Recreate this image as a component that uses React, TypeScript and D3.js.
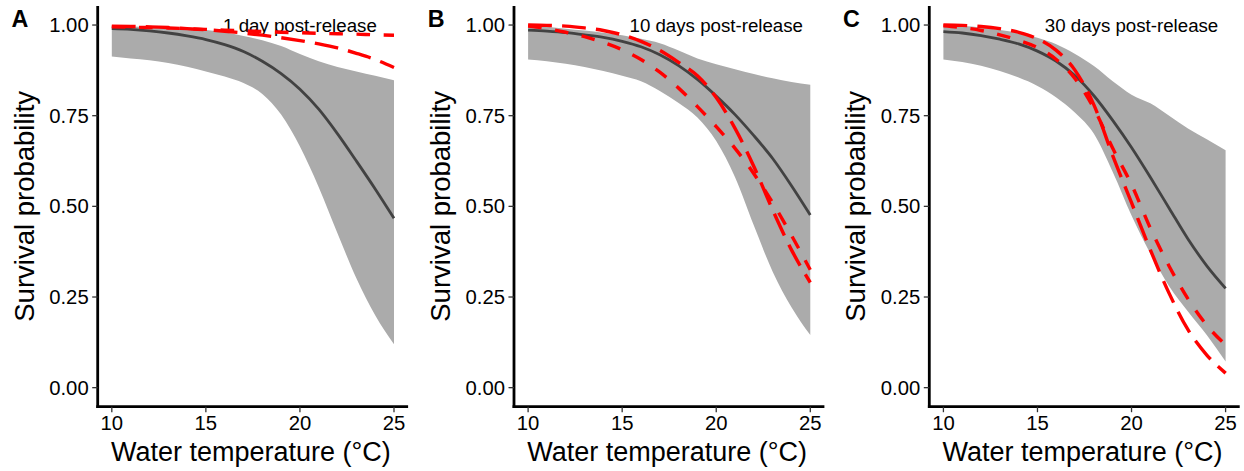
import React from "react";
import * as d3 from "d3";

const temps = [10, 11, 12, 13, 14, 15, 16, 17, 18, 19, 20, 21, 22, 23, 24, 25];
const panelLabels = ["A", "B", "C"];
const annotations = ["1 day post-release", "10 days post-release", "30 days post-release"];
const xTicks = [10, 15, 20, 25];
const yTicks = [0, 0.25, 0.5, 0.75, 1];

// Panel A
const meanA = [0.99, 0.988, 0.984, 0.978, 0.97, 0.96, 0.946, 0.927, 0.9, 0.866, 0.823, 0.768, 0.7, 0.625, 0.548, 0.467];
const lowerA = [0.913, 0.908, 0.903, 0.895, 0.885, 0.872, 0.858, 0.84, 0.81, 0.753, 0.665, 0.553, 0.425, 0.302, 0.2, 0.12];
const upperA = [0.997, 0.996, 0.995, 0.993, 0.99, 0.986, 0.98, 0.97, 0.958, 0.942, 0.92, 0.9, 0.884, 0.872, 0.86, 0.848];
const shortA = [0.995, 0.994, 0.993, 0.992, 0.99, 0.988, 0.986, 0.984, 0.982, 0.98, 0.979, 0.977, 0.976, 0.975, 0.973, 0.972];
const longA = [0.997, 0.996, 0.995, 0.993, 0.99, 0.987, 0.983, 0.978, 0.972, 0.965, 0.957, 0.948, 0.937, 0.922, 0.905, 0.883];

// Panel B
const meanB = [0.986, 0.983, 0.979, 0.973, 0.966, 0.955, 0.94, 0.918, 0.888, 0.85, 0.804, 0.753, 0.695, 0.632, 0.557, 0.476];
const lowerB = [0.905, 0.9, 0.893, 0.884, 0.873, 0.86, 0.845, 0.818, 0.785, 0.745, 0.68, 0.58, 0.447, 0.32, 0.222, 0.145];
const upperB = [0.999, 0.995, 0.99, 0.985, 0.979, 0.972, 0.962, 0.95, 0.93, 0.908, 0.892, 0.878, 0.865, 0.853, 0.843, 0.835];
const shortB = [0.997, 0.99, 0.98, 0.968, 0.952, 0.932, 0.905, 0.87, 0.826, 0.775, 0.72, 0.66, 0.59, 0.51, 0.42, 0.325];
const longB = [1.0, 0.999, 0.997, 0.992, 0.985, 0.973, 0.955, 0.93, 0.897, 0.86, 0.8, 0.715, 0.61, 0.49, 0.38, 0.29];

// Panel C
const meanC = [0.982, 0.978, 0.971, 0.961, 0.948, 0.928, 0.9, 0.86, 0.805, 0.737, 0.662, 0.58, 0.495, 0.41, 0.336, 0.274];
const lowerC = [0.905, 0.898, 0.888, 0.873, 0.855, 0.832, 0.8, 0.758, 0.7, 0.595, 0.475, 0.37, 0.28, 0.21, 0.145, 0.072];
const upperC = [0.999, 0.997, 0.993, 0.986, 0.978, 0.965, 0.947, 0.92, 0.887, 0.845, 0.808, 0.784, 0.75, 0.715, 0.685, 0.655];
const shortC = [0.998, 0.993, 0.985, 0.973, 0.958, 0.938, 0.905, 0.852, 0.77, 0.66, 0.56, 0.44, 0.335, 0.245, 0.172, 0.118];
const longC = [1.0, 0.999, 0.996, 0.99, 0.98, 0.962, 0.93, 0.875, 0.78, 0.64, 0.51, 0.38, 0.26, 0.16, 0.09, 0.04];

const panels = [
  { mean: meanA, lower: lowerA, upper: upperA, short: shortA, long: longA },
  { mean: meanB, lower: lowerB, upper: upperB, short: shortB, long: longB },
  { mean: meanC, lower: lowerC, upper: upperC, short: shortC, long: longC },
];

const W = 1244;
const H = 471;
const axisX = [97.7, 514, 929.3];
const panelW = 310.4;
const top = 6;
const bottom = 406.7;
const FONT = "'Liberation Sans', Arial, Helvetica, sans-serif";

function Panel({ idx }: { idx: number }) {
  const p = panels[idx];
  const x0 = axisX[idx];
  const x = d3.scaleLinear().domain([9.25, 25.75]).range([x0, x0 + panelW]);
  const y = d3.scaleLinear().domain([-0.05, 1.05]).range([bottom - 0.9, top + 0.9]);
  const area = d3
    .area<number>()
    .x((_, i) => x(temps[i]))
    .y0((_, i) => y(p.lower[i]))
    .y1((_, i) => y(p.upper[i]))
    .curve(d3.curveMonotoneX);
  const line = (vals: number[]) =>
    d3
      .line<number>()
      .x((_, i) => x(temps[i]))
      .y((v) => y(v))
      .curve(d3.curveMonotoneX)(vals) || "";

  return (
    <g>
      <path d={area(p.mean) || ""} fill="#ababab" />
      <path d={line(p.mean)} fill="none" stroke="#424242" strokeWidth={2.8} />
      <text
        x={x(20)}
        y={y(1)}
        textAnchor="middle"
        dominantBaseline="central"
        fontFamily={FONT}
        fontSize={18.7}
        fill="#000"
      >
        {annotations[idx]}
      </text>
      <path d={line(p.short)} fill="none" stroke="#ff0000" strokeWidth={3.4} strokeDasharray="13.6 13.6" />
      <path d={line(p.long)} fill="none" stroke="#ff0000" strokeWidth={3.4} strokeDasharray="23.8 10.2" />

      {/* axes */}
      <line x1={x0} x2={x0} y1={top} y2={bottom + 1.4} stroke="#000" strokeWidth={2.8} />
      <line x1={x0 - 1.4} x2={x0 + panelW} y1={bottom} y2={bottom} stroke="#000" strokeWidth={2.8} />
      {yTicks.map((t) => (
        <g key={"y" + t}>
          <line x1={x0 - 5.5} x2={x0} y1={y(t)} y2={y(t)} stroke="#333" strokeWidth={1.3} />
          <text
            x={x0 - 9}
            y={y(t)}
            textAnchor="end"
            dominantBaseline="central"
            fontFamily={FONT}
            fontSize={20.3}
            fill="#000"
          >
            {t.toFixed(2)}
          </text>
        </g>
      ))}
      {xTicks.map((t) => (
        <g key={"x" + t}>
          <line x1={x(t)} x2={x(t)} y1={bottom} y2={bottom + 5.5} stroke="#333" strokeWidth={1.3} />
          <text x={x(t)} y={429.5} textAnchor="middle" fontFamily={FONT} fontSize={20.3} fill="#000">
            {t}
          </text>
        </g>
      ))}
      <text
        x={x0 + panelW / 2 - 2}
        y={461}
        textAnchor="middle"
        fontFamily={FONT}
        fontSize={27}
        fill="#000"
      >
        Water temperature (°C)
      </text>
      <text
        transform={`translate(${x0 - 64.2},${(top + bottom) / 2}) rotate(-90)`}
        textAnchor="middle"
        fontFamily={FONT}
        fontSize={27.5}
        fill="#000"
      >
        Survival probability
      </text>
      <text x={x0 - 86.2} y={26.7} fontFamily={FONT} fontSize={23.3} fontWeight="bold" fill="#000">
        {panelLabels[idx]}
      </text>
    </g>
  );
}

export default function App() {
  return (
    <svg
      width={W}
      height={H}
      viewBox={`0 0 ${W} ${H}`}
      style={{ position: "absolute", left: 0, top: 0, background: "#fff" }}
    >
      <rect x={0} y={0} width={W} height={H} fill="#fff" />
      {panels.map((_, i) => (
        <Panel key={i} idx={i} />
      ))}
    </svg>
  );
}
